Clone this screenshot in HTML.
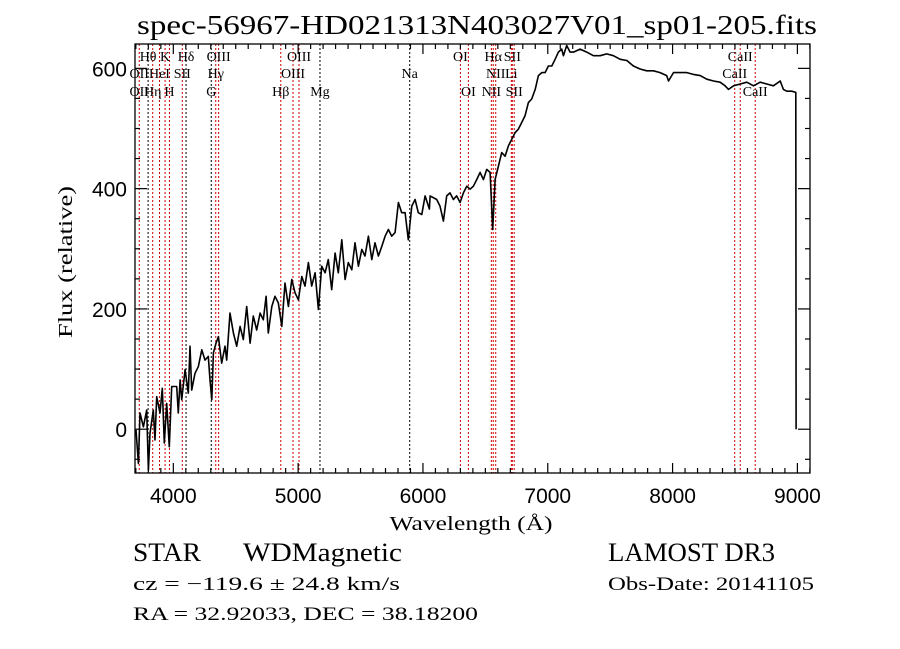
<!DOCTYPE html>
<html><head><meta charset="utf-8"><style>
body{margin:0;background:#fff}
svg{display:block}
text{font-family:"Liberation Serif",serif;fill:#000}
</style></head><body>
<svg id="chart" width="900" height="649" viewBox="0 0 900 649" xmlns="http://www.w3.org/2000/svg">
<rect width="900" height="649" fill="#fff"/>
<text x="477" y="34" font-size="27" text-anchor="middle" textLength="680" lengthAdjust="spacingAndGlyphs">spec-56967-HD021313N403027V01_sp01-205.fits</text>
<g id="lines"></g>
<g id="labels"></g>
<path id="spec" fill="none" stroke="#000" stroke-width="1.6" stroke-linejoin="round"/>
<rect x="135" y="44" width="675" height="429" fill="none" stroke="#000" stroke-width="1.3"/>
<g id="ticks"></g>
<text x="471" y="530" font-size="20" text-anchor="middle" textLength="163" lengthAdjust="spacingAndGlyphs">Wavelength (Å)</text>
<text transform="translate(72,262) rotate(-90)" font-size="20" text-anchor="middle" textLength="152" lengthAdjust="spacingAndGlyphs">Flux (relative)</text>
<text x="133" y="561" font-size="26" textLength="68" lengthAdjust="spacingAndGlyphs">STAR</text>
<text x="243" y="561" font-size="26" textLength="159" lengthAdjust="spacingAndGlyphs">WDMagnetic</text>
<text x="608" y="561" font-size="26" textLength="167" lengthAdjust="spacingAndGlyphs">LAMOST DR3</text>
<text x="133" y="590" font-size="19" textLength="267" lengthAdjust="spacingAndGlyphs">cz = −119.6 ± 24.8 km/s</text>
<text x="608" y="590" font-size="19" textLength="206" lengthAdjust="spacingAndGlyphs">Obs-Date: 20141105</text>
<text x="133" y="620" font-size="19" textLength="345" lengthAdjust="spacingAndGlyphs">RA =  32.92033, DEC =  38.18200</text>
</svg>
<script>
const wavelengths=[3701,3720,3733,3760,3787,3800,3813,3840,3853,3867,3893,3912,3928,3947,3968,3987,4027,4040,4054,4067,4094,4120,4134,4147,4174,4200,4228,4254,4280,4294,4308,4321,4342,4361,4388,4414,4428,4454,4481,4508,4535,4561,4588,4615,4641,4668,4695,4721,4743,4761,4789,4815,4841,4869,4895,4922,4949,4975,5002,5029,5055,5082,5109,5136,5162,5189,5216,5242,5269,5296,5322,5350,5376,5402,5430,5456,5483,5510,5536,5563,5590,5616,5643,5670,5697,5723,5750,5777,5803,5830,5857,5883,5911,5937,5963,5991,6017,6052,6057,6110,6137,6164,6190,6217,6244,6270,6298,6324,6351,6378,6404,6431,6458,6484,6511,6538,6559,6578,6605,6631,6658,6685,6711,6738,6765,6791,6818,6845,6871,6899,6925,6952,6979,7005,7032,7059,7085,7112,7125,7152,7179,7206,7259,7312,7366,7420,7472,7526,7580,7633,7686,7740,7793,7847,7900,7953,7967,8007,8061,8114,8167,8221,8274,8328,8381,8421,8448,8488,8542,8595,8648,8702,8755,8808,8862,8888,8915,8955,8987,8990];
const flux=[-1,-57,27,4,32,-68,-7,32,-18,54,27,68,-23,43,-29,71,71,27,82,49,99,60,138,65,93,104,132,115,121,82,49,127,143,154,110,138,115,193,160,138,171,149,204,143,188,165,193,182,221,160,204,221,210,171,243,204,249,227,215,254,238,277,238,260,199,271,260,282,232,293,260,315,249,277,265,310,271,299,288,321,282,310,288,304,321,332,321,327,377,360,360,315,371,382,360,357,388,366,388,382,371,346,388,393,382,388,377,393,404,399,404,415,427,415,432,427,332,415,438,460,454,471,482,493,499,510,521,543,549,565,588,593,593,604,604,615,627,632,621,638,627,627,632,627,621,621,624,621,615,613,604,599,596,596,593,588,579,593,593,593,590,588,582,579,577,571,565,571,574,577,571,577,574,571,579,565,562,562,560,0];
const lineWaves=[3727,3798,3835,3889,3934,3969,4072,4102,4304,4340,4363,4861,4959,5007,5175,5894,6300,6364,6548,6563,6583,6708,6716,6731,8498,8542,8662];
const lineIsRed=[1,0,1,1,1,1,1,0,0,1,1,1,1,1,0,0,1,1,1,1,1,1,1,1,1,1,1];
const labelTexts=["Hθ","K","Hδ","OIII","OIII","OI","Hα","SII","CaII","OII","HeI","SII","Hγ","OIII","Na","NII","Li","CaII","OII","Hη","H","G","Hβ","Mg","OI","NII","SII","CaII"];
const labelWaves=[3798,3934,4102,4363,5007,6300,6563,6716,8542,3727,3889,4072,4340,4959,5894,6583,6708,8498,3727,3835,3969,4304,4861,5175,6364,6548,6731,8662];
const labelRows=[0,0,0,0,0,0,0,0,0,1,1,1,1,1,1,1,1,1,2,2,2,2,2,2,2,2,2,2];
const xTicks=[4000,5000,6000,7000,8000,9000];
const yTicks=[0,200,400,600];
const X0=135,X1=810,Y0=44,Y1=473,WMIN=3693,WMAX=9101,FMIN=-72.8,FMAX=640.5;
const sx=w=>X0+(w-WMIN)/(WMAX-WMIN)*(X1-X0);
const sy=f=>Y1-(f-FMIN)/(FMAX-FMIN)*(Y1-Y0);
const NS="http://www.w3.org/2000/svg";
function mk(tag,attrs,parent){const e=document.createElementNS(NS,tag);for(const k in attrs)e.setAttribute(k,attrs[k]);parent.appendChild(e);return e;}
let d="";
wavelengths.forEach((w,i)=>{d+=(i?"L":"M")+sx(w).toFixed(1)+","+sy(Math.max(flux[i],FMIN)).toFixed(1);});
document.getElementById("spec").setAttribute("d",d);
const lg=document.getElementById("lines");
lineWaves.forEach((w,i)=>{
 const l=mk("line",{x1:sx(w),x2:sx(w),y1:Y0,y2:Y1,stroke:lineIsRed[i]?"#cc0000":"#000","stroke-width":1,"stroke-dasharray":"2,2"},lg);
 
 
});
const lab=document.getElementById("labels");
const rowY=[61,78,96];
labelTexts.forEach((t,i)=>{
 const e=mk("text",{x:sx(labelWaves[i]),y:rowY[labelRows[i]],"font-size":14,"text-anchor":"middle"},lab);
 e.textContent=t;
 
 
});
const tg=document.getElementById("ticks");
for(let w=3700;w<=9100;w+=100){
 const maj=w%1000===0,len=maj?10:5,x=sx(w);
 const a=mk("line",{x1:x,x2:x,y1:Y1,y2:Y1-len,stroke:"#000","stroke-width":1.2},tg);
 
 
 const b=mk("line",{x1:x,x2:x,y1:Y0,y2:Y0+len,stroke:"#000","stroke-width":1.2},tg);
 
 
}
xTicks.forEach(w=>{
 const t=mk("text",{x:sx(w),y:503,"font-size":21,"text-anchor":"middle",style:"font-family:'Liberation Sans',sans-serif"},tg);
 t.textContent=w;
 
 
});
for(let f=-50;f<=600;f+=50){
 const maj=f%200===0,len=maj?12:5,y=sy(f);
 const a=mk("line",{x1:X0,x2:X0+len,y1:y,y2:y,stroke:"#000","stroke-width":1.2},tg);
 
 
 const b=mk("line",{x1:X1,x2:X1-len,y1:y,y2:y,stroke:"#000","stroke-width":1.2},tg);
 
 
}
yTicks.forEach(f=>{
 const t=mk("text",{x:127,y:sy(f)+8,"font-size":21,"text-anchor":"end",style:"font-family:'Liberation Sans',sans-serif"},tg);
 t.textContent=f;
 
 
});
</script>
</body></html>
